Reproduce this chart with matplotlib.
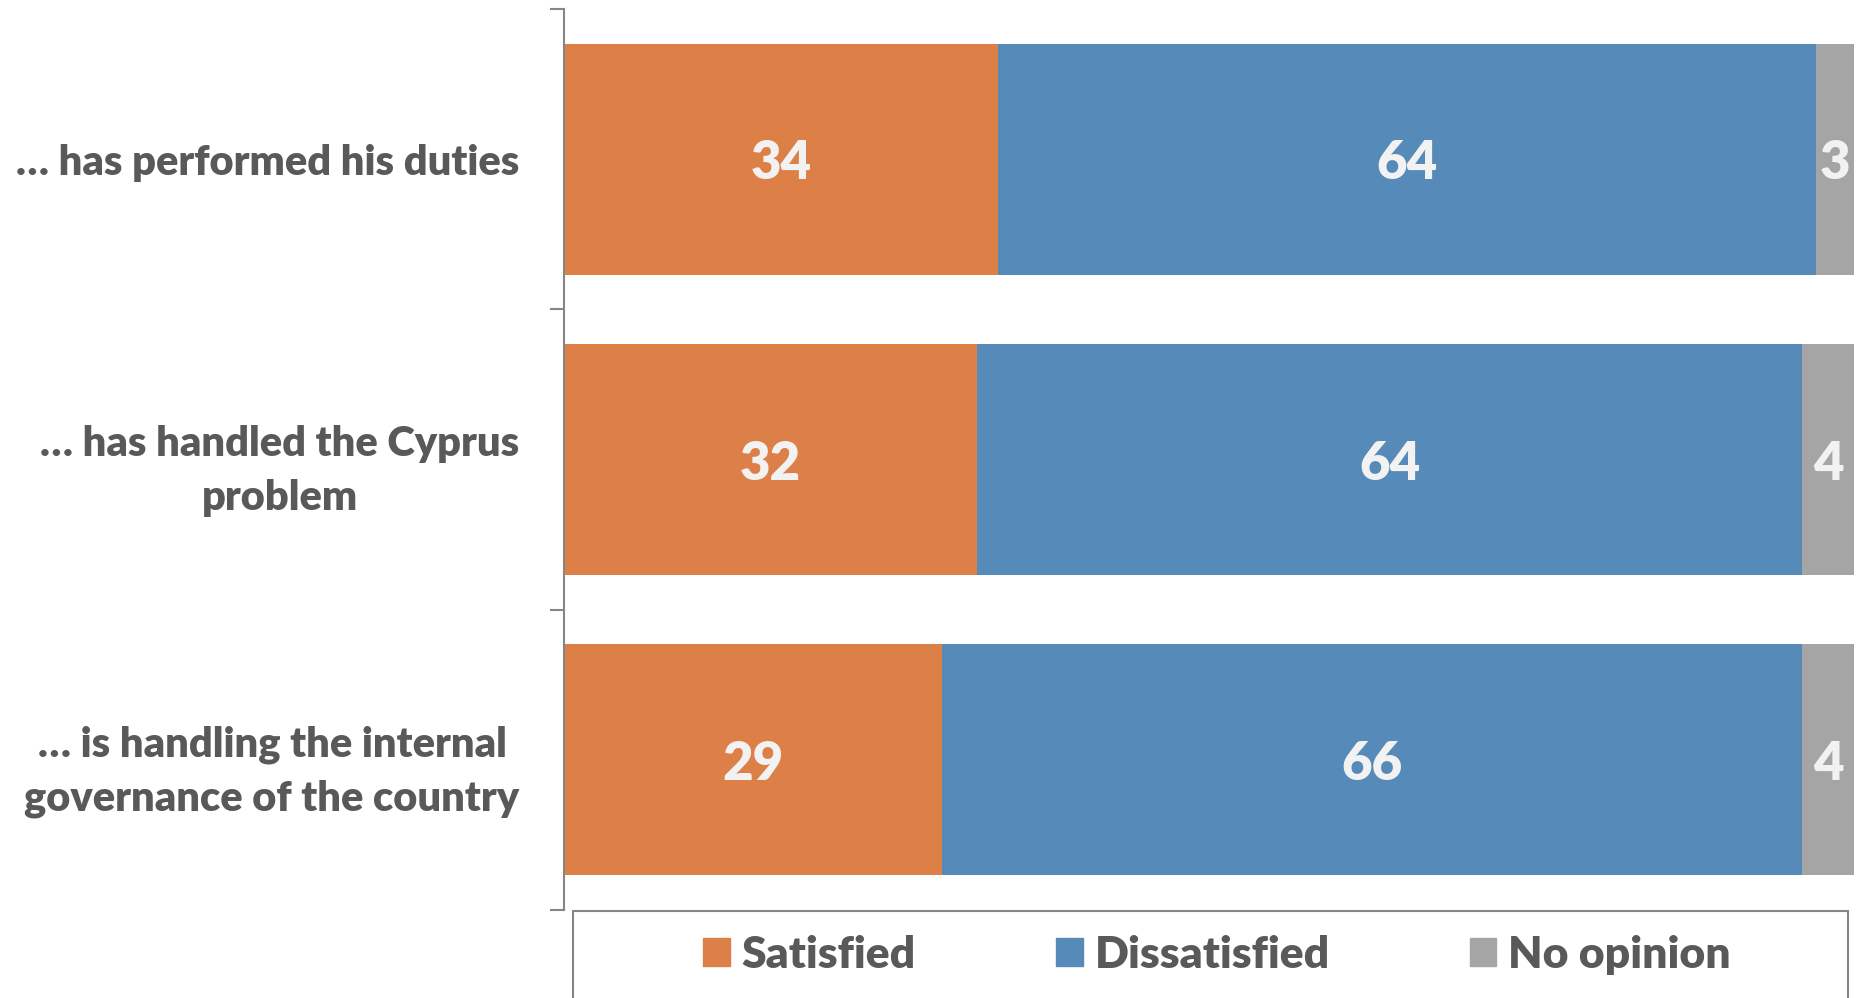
import numpy as np
import matplotlib.pyplot as plt
from matplotlib.patches import Rectangle, Patch

# Данные опроса
categories = ['… has performed his duties',
              '… has handled the Cyprus\nproblem',
              '… is handling the internal\ngovernance of the country']
series_names = ['Satisfied', 'Dissatisfied', 'No opinion']
satisfied = [34, 32, 29]
dissatisfied = [64, 64, 66]
no_opinion = [3, 4, 4]

colors = ['#DD8047', '#558AB9', '#A5A5A5']
text_gray = '#595959'

plt.rcParams['font.family'] = ['Lato', 'DejaVu Sans']

values = np.array([satisfied, dissatisfied, no_opinion], dtype=float)
# 100% stacked: normalize each row
shares = values / values.sum(axis=0) * 100

fig = plt.figure(figsize=(18.6, 9.98), dpi=100)
ax = fig.add_axes([564 / 1860, 1 - 910 / 998, (1854 - 564) / 1860, (910 - 9) / 998])

y = np.arange(len(categories))
left = np.zeros(len(categories))
for i, name in enumerate(series_names):
    bars = ax.barh(y, shares[i], left=left, height=0.77, color=colors[i],
                   label=name, linewidth=0)
    for j, b in enumerate(bars):
        ax.text(left[j] + shares[i][j] / 2, y[j], '%d' % values[i][j],
                ha='center', va='center_baseline', color='#F2F2F2',
                fontsize=38, fontweight='heavy')
    left += shares[i]

ax.set_xlim(0, 100)
ax.set_ylim(2.5, -0.5)

# Оси
for s in ['top', 'right', 'bottom']:
    ax.spines[s].set_visible(False)
ax.spines['left'].set_color('#868686')
ax.spines['left'].set_linewidth(1.5)
ax.set_xticks([])
ax.set_yticks([-0.5, 0.5, 1.5, 2.5])
ax.set_yticklabels([])
ax.tick_params(axis='y', which='major', length=10, width=1.5, color='#868686')
ax.set_yticks(y, minor=True)
ax.set_yticklabels(categories, minor=True, fontsize=30, fontweight='heavy',
                   color=text_gray, linespacing=1.5)
ax.tick_params(axis='y', which='minor', length=0, pad=32)
for lbl in ax.get_yticklabels(minor=True):
    lbl.set_multialignment('center')

# Легенда
fig.patches.append(Rectangle((573 / 1860, -0.05), (1848 - 573) / 1860,
                             1 - 911 / 998 + 0.05, transform=fig.transFigure,
                             fill=False, edgecolor='#868686', linewidth=1.5))
handles = [Patch(color=c) for c in colors]
fig.legend(handles, series_names, loc='center', ncol=3, frameon=False,
           bbox_to_anchor=(1217 / 1860, 1 - 955 / 998),
           labelcolor=text_gray, handlelength=0.6,
           handleheight=0.6, handletextpad=0.27, columnspacing=3.15,
           prop={'weight': 'heavy', 'size': 32})

fig.savefig('out.png', dpi=100)
